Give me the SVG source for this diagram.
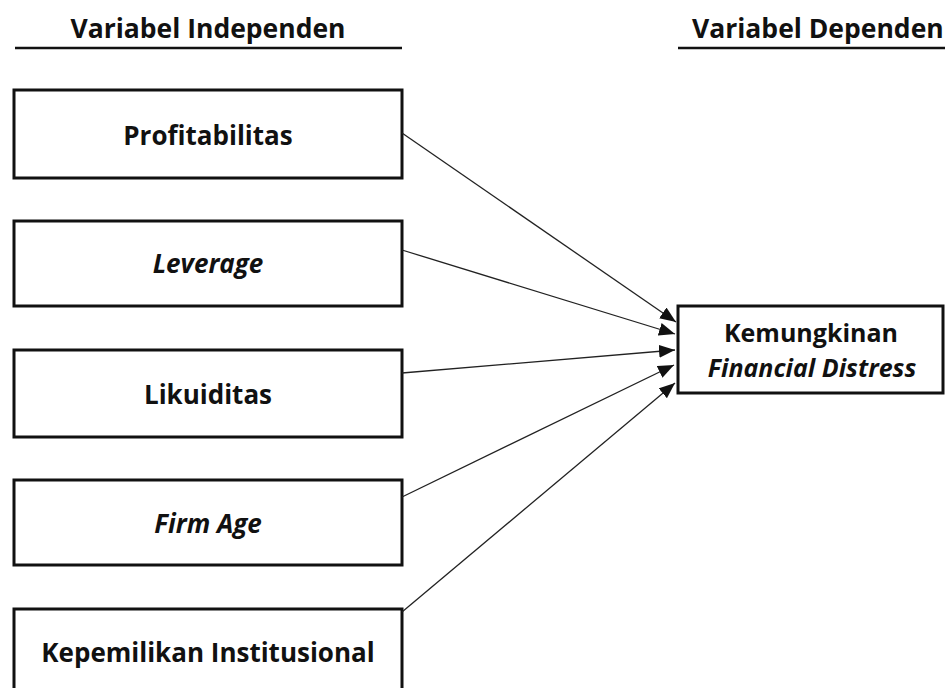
<svg xmlns="http://www.w3.org/2000/svg" width="945" height="688" viewBox="0 0 945 688">
<style>
.box{fill:#fff;stroke:#111;stroke-width:3}
.t{font-family:"Open Sans","Noto Sans","DejaVu Sans",sans-serif;font-weight:700;font-size:26px;fill:#111;text-anchor:middle}
.s{font-size:25px}
.i{font-style:italic}
.hdr{font-family:"Open Sans","Noto Sans","DejaVu Sans",sans-serif;font-weight:700;font-size:26.5px;fill:#111}
.ul{stroke:#111;stroke-width:2.5}
.c{stroke:#222;stroke-width:1.3;fill:none;marker-end:url(#ah)}
</style>
<defs>
<marker id="ah" markerUnits="userSpaceOnUse" markerWidth="17" markerHeight="14" refX="16" refY="6.5" orient="auto">
<path d="M0,0 L16,6.5 L0,13 Z" fill="#111"/>
</marker>
</defs>
<rect width="945" height="688" fill="#fff"/>
<g id="header-independen">
<text class="hdr" x="208" y="38" text-anchor="middle">Variabel Independen</text>
<line class="ul" x1="15" y1="48" x2="402" y2="48"/>
</g>
<g id="header-dependen">
<text class="hdr" x="692" y="38">Variabel Dependen</text>
<line class="ul" x1="678" y1="48" x2="945" y2="48"/>
</g>
<g id="profitabilitas">
<rect class="box" x="14" y="90" width="388" height="88"/>
<text class="t" x="208" y="145">Profitabilitas</text>
</g>
<g id="leverage">
<rect class="box" x="14" y="221" width="388" height="85"/>
<text class="t i" x="208" y="273">Leverage</text>
</g>
<g id="likuiditas">
<rect class="box" x="14" y="350" width="388" height="87"/>
<text class="t" x="208" y="404">Likuiditas</text>
</g>
<g id="firm-age">
<rect class="box" x="14" y="480" width="388" height="85"/>
<text class="t i" x="208" y="533">Firm Age</text>
</g>
<g id="kepemilikan">
<rect class="box" x="14" y="609" width="388" height="87"/>
<text class="t" x="208" y="662">Kepemilikan Institusional</text>
</g>
<g id="financial-distress">
<rect class="box" x="678" y="306" width="265" height="87"/>
<text class="t s" x="811" y="342">Kemungkinan</text>
<text class="t s i" x="812" y="377">Financial Distress</text>
</g>
<g id="connectors">
<line class="c" x1="402" y1="133" x2="676" y2="322"/>
<line class="c" x1="402" y1="250" x2="675" y2="334"/>
<line class="c" x1="402" y1="373" x2="675" y2="350"/>
<line class="c" x1="402" y1="497" x2="674" y2="365"/>
<line class="c" x1="402" y1="612" x2="675" y2="383"/>
</g>
</svg>
